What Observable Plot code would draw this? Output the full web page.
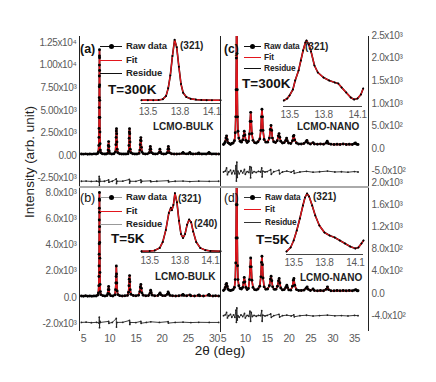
<!DOCTYPE html>
<html><head><meta charset="utf-8">
<script src="https://cdn.jsdelivr.net/npm/d3@7"></script>
<script src="https://cdn.jsdelivr.net/npm/@observablehq/plot@0.6"></script>
<style>
body{margin:0;background:#fff;}
#fig{position:relative;width:436px;height:382px;overflow:hidden;font-family:Arial,"Liberation Sans",sans-serif;background:#fff;}
#fig svg{position:absolute;overflow:visible;background:transparent;}
.t{position:absolute;white-space:nowrap;line-height:1;transform:translateY(-50%);}
.ln{position:absolute;}
</style></head><body><div id="fig"></div>
<script>
// ---------- data (2θ in degrees, intensity in counts) ----------
const obsA = [[4.6,170],[5.0,150],[5.4,180],[5.8,140],[6.2,170],[6.6,150],[7.0,180],[7.4,160],[7.7,210],[7.85,400],[7.92,1100],[7.95,2000],[7.97,3000],[7.99,4200],[8.0,5300],[8.01,6400],[8.02,7600],[8.03,8800],[8.04,10000],[8.05,11000],[8.06,11700],[8.07,10800],[8.08,9400],[8.09,7800],[8.10,6100],[8.12,4200],[8.14,2600],[8.17,1300],[8.22,600],[8.3,300],[8.6,200],[9.0,170],[9.3,160],[9.6,230],[9.7,600],[9.75,1100],[9.8,1540],[9.85,1000],[9.9,500],[10.0,230],[10.4,170],[10.8,190],[11.1,400],[11.18,1200],[11.23,2000],[11.27,2700],[11.3,2970],[11.34,2400],[11.38,1500],[11.44,700],[11.55,300],[11.9,190],[12.3,160],[12.7,170],[13.1,160],[13.5,200],[13.62,450],[13.68,1100],[13.72,1900],[13.76,2600],[13.79,2970],[13.83,2400],[13.87,1500],[13.93,700],[14.05,300],[14.4,190],[14.8,170],[15.2,160],[15.6,230],[15.75,600],[15.83,1200],[15.9,1700],[15.95,1980],[16.0,1600],[16.06,900],[16.15,400],[16.4,210],[16.8,170],[17.2,180],[17.55,300],[17.68,650],[17.76,1000],[17.84,700],[17.95,330],[18.3,190],[18.7,170],[19.1,180],[19.45,330],[19.58,700],[19.7,400],[19.9,210],[20.3,170],[20.7,180],[21.0,300],[21.12,700],[21.2,1000],[21.28,700],[21.4,300],[21.8,190],[22.3,170],[22.8,160],[23.3,180],[23.8,230],[24.0,330],[24.15,230],[24.6,180],[25.0,190],[25.3,330],[25.5,200],[25.9,170],[26.4,180],[26.8,200],[27.0,280],[27.15,200],[27.6,170],[28.0,180],[28.4,170],[28.8,230],[28.95,330],[29.1,220],[29.5,170],[29.9,180],[30.3,160],[30.8,170]];
const resA = [[4.6,-2850],[5.5,-2830],[6.5,-2870],[7.5,-2840],[7.95,-2900],[8.0,-2300],[8.04,-3400],[8.08,-2600],[8.15,-2860],[9.0,-2850],[9.8,-2700],[9.85,-2950],[10.5,-2850],[11.25,-2600],[11.3,-3100],[11.4,-2850],[12.5,-2840],[13.75,-2650],[13.8,-3050],[13.9,-2850],[15.0,-2860],[15.95,-2700],[16.0,-2980],[16.1,-2850],[17.8,-2800],[17.85,-2900],[19.0,-2850],[21.2,-2780],[21.25,-2920],[22.5,-2850],[24.0,-2830],[25.3,-2880],[27.0,-2840],[29.0,-2860],[30.8,-2850]];

const obsB = [[4.6,110],[5.0,90],[5.4,130],[5.8,100],[6.2,120],[6.6,90],[7.0,120],[7.4,110],[7.7,180],[7.85,350],[7.92,900],[7.95,1600],[7.97,2400],[7.99,3300],[8.0,4100],[8.01,5000],[8.02,5900],[8.03,6800],[8.04,7500],[8.05,8000],[8.06,7400],[8.07,6500],[8.08,5400],[8.10,4200],[8.12,3000],[8.14,1900],[8.17,1000],[8.22,450],[8.3,220],[8.7,140],[9.1,120],[9.5,150],[9.65,300],[9.74,600],[9.8,840],[9.86,600],[9.93,280],[10.2,140],[10.6,120],[11.0,200],[11.12,600],[11.18,1100],[11.23,1600],[11.27,2400],[11.31,1800],[11.36,1100],[11.43,500],[11.55,220],[11.9,140],[12.4,120],[12.9,130],[13.4,160],[13.6,400],[13.68,900],[13.74,1400],[13.8,1670],[13.86,1200],[13.92,600],[14.05,250],[14.5,150],[15.0,130],[15.5,170],[15.75,450],[15.85,800],[15.95,990],[16.05,700],[16.15,350],[16.4,170],[16.9,130],[17.4,150],[17.7,330],[17.82,550],[17.92,380],[18.1,180],[18.6,130],[19.2,150],[19.5,280],[19.62,350],[19.75,220],[20.1,140],[20.6,140],[21.0,250],[21.15,420],[21.28,300],[21.5,160],[22.0,130],[22.6,120],[23.2,130],[23.8,170],[24.0,240],[24.15,160],[24.7,130],[25.3,190],[25.5,130],[26.2,120],[26.9,160],[27.05,200],[27.2,130],[27.9,120],[28.8,170],[28.95,230],[29.1,150],[29.7,120],[30.2,130],[30.8,110]];
const resB = [[4.6,-1900],[5.5,-1880],[6.5,-1920],[7.5,-1890],[7.97,-1950],[8.02,-1500],[8.06,-2300],[8.12,-1800],[8.2,-1900],[9.8,-1820],[9.85,-1960],[10.5,-1900],[11.25,-1600],[11.3,-2250],[11.38,-1900],[12.5,-1890],[13.78,-1750],[13.84,-2050],[13.9,-1900],[15.0,-1910],[15.95,-1820],[16.0,-1960],[17.0,-1900],[17.85,-1850],[19.5,-1900],[21.15,-1840],[21.2,-1950],[22.5,-1900],[24.0,-1880],[25.5,-1910],[27.0,-1890],[29.0,-1900],[30.8,-1900]];

const obsC = [[5.0,90],[5.2,110],[5.4,150],[5.55,230],[5.7,280],[5.85,200],[6.0,130],[6.3,110],[6.6,90],[6.9,110],[7.2,120],[7.5,170],[7.7,350],[7.8,700],[7.88,1300],[7.94,2000],[7.98,2700],[8.02,3200],[8.06,2800],[8.1,2100],[8.15,1300],[8.22,700],[8.32,380],[8.5,230],[8.8,160],[9.1,140],[9.4,190],[9.6,280],[9.75,380],[9.9,300],[10.1,180],[10.4,130],[10.7,160],[10.95,320],[11.1,600],[11.22,800],[11.35,600],[11.5,330],[11.75,180],[12.1,130],[12.5,120],[12.9,150],[13.3,210],[13.55,400],[13.7,700],[13.8,870],[13.92,700],[14.05,400],[14.3,200],[14.7,140],[15.1,140],[15.5,230],[15.72,420],[15.88,510],[16.03,400],[16.2,230],[16.5,150],[16.9,130],[17.3,170],[17.55,280],[17.72,330],[17.88,250],[18.1,160],[18.5,120],[18.9,130],[19.25,180],[19.45,230],[19.6,170],[19.9,120],[20.4,110],[20.8,170],[21.0,270],[21.12,290],[21.3,190],[21.7,120],[22.2,100],[22.8,100],[23.4,110],[23.9,150],[24.1,180],[24.35,120],[24.9,100],[25.5,130],[25.8,100],[26.5,95],[27.2,100],[27.9,95],[28.5,120],[28.75,160],[29.0,110],[29.6,95],[30.3,90],[31.0,95],[31.7,90],[32.4,100],[33.1,90],[33.8,95],[34.5,90],[35.0,110],[35.2,120],[35.5,95],[35.8,90]];
const resC = [[5.0,-520],[5.4,-500],[5.7,-430],[5.9,-580],[6.2,-520],[6.6,-480],[6.9,-560],[7.3,-490],[7.6,-560],[7.85,-380],[7.95,-720],[8.05,-300],[8.15,-640],[8.3,-500],[8.6,-560],[9.0,-490],[9.4,-540],[9.8,-460],[10.0,-570],[10.4,-510],[10.8,-530],[11.05,-400],[11.2,-650],[11.35,-420],[11.6,-540],[12.0,-510],[12.5,-530],[13.0,-505],[13.5,-520],[13.75,-430],[13.85,-630],[14.0,-500],[14.5,-520],[15.0,-510],[15.8,-470],[15.95,-570],[16.5,-515],[17.7,-480],[17.85,-560],[18.5,-520],[19.5,-500],[20.5,-525],[21.1,-490],[21.2,-550],[22.5,-520],[24.0,-505],[25.5,-525],[27.0,-515],[28.8,-500],[30.5,-520],[32.0,-515],[33.5,-525],[35.0,-510],[35.8,-520]];

const obsD = [[5.0,55],[5.2,70],[5.4,110],[5.55,160],[5.7,180],[5.85,130],[6.0,80],[6.3,60],[6.6,55],[6.9,60],[7.2,70],[7.5,110],[7.7,250],[7.8,550],[7.88,1000],[7.94,1600],[7.98,2100],[8.02,2400],[8.06,2100],[8.1,1600],[8.15,1000],[8.22,500],[8.32,250],[8.5,140],[8.8,90],[9.1,80],[9.4,110],[9.6,200],[9.75,290],[9.9,210],[10.1,110],[10.4,70],[10.7,90],[10.95,250],[11.1,480],[11.22,640],[11.35,480],[11.5,240],[11.75,110],[12.1,70],[12.5,65],[12.9,80],[13.3,130],[13.55,300],[13.7,560],[13.8,670],[13.92,520],[14.05,280],[14.3,120],[14.7,75],[15.1,80],[15.5,140],[15.75,260],[15.9,310],[16.05,230],[16.25,120],[16.6,75],[17.0,75],[17.35,130],[17.6,230],[17.75,270],[17.9,190],[18.1,100],[18.5,65],[18.9,70],[19.25,110],[19.5,150],[19.65,110],[19.95,65],[20.4,60],[20.8,130],[21.0,240],[21.12,270],[21.3,150],[21.7,70],[22.2,55],[22.8,55],[23.4,60],[23.9,95],[24.15,120],[24.4,75],[24.9,55],[25.5,80],[25.8,55],[26.5,50],[27.2,55],[27.9,50],[28.5,75],[28.8,120],[29.05,70],[29.6,50],[30.3,50],[31.0,55],[31.7,50],[32.4,55],[33.1,50],[33.8,55],[34.5,50],[35.0,60],[35.3,70],[35.6,50],[35.8,50]];
const resD = [[5.0,-400],[5.4,-385],[5.7,-340],[5.9,-440],[6.2,-400],[6.6,-375],[6.9,-430],[7.3,-385],[7.6,-430],[7.85,-300],[7.95,-520],[8.05,-260],[8.15,-480],[8.3,-400],[8.6,-430],[9.0,-385],[9.4,-415],[9.8,-360],[10.0,-440],[10.4,-395],[10.8,-410],[11.05,-320],[11.2,-500],[11.35,-340],[11.6,-415],[12.0,-395],[12.5,-410],[13.0,-395],[13.5,-400],[13.75,-310],[13.85,-500],[14.0,-390],[14.5,-405],[15.0,-395],[15.8,-370],[15.95,-430],[16.5,-400],[17.7,-375],[17.85,-425],[18.5,-400],[19.5,-390],[20.5,-405],[21.1,-385],[21.2,-420],[22.5,-400],[24.0,-392],[25.5,-406],[27.0,-398],[28.8,-390],[30.5,-402],[32.0,-398],[33.5,-405],[35.0,-395],[35.8,-400]];

// insets: (321) region, 2θ vs counts
const insetA = [[13.44,150],[13.50,155],[13.55,150],[13.60,160],[13.64,200],[13.67,350],[13.69,700],[13.71,1300],[13.73,2200],[13.75,2950],[13.77,2600],[13.79,1700],[13.81,900],[13.83,500],[13.86,300],[13.90,220],[13.95,180],[14.00,165],[14.05,155],[14.10,150],[14.18,150]];
const insetB = [[13.42,100],[13.50,110],[13.55,150],[13.60,350],[13.63,800],[13.66,1700],[13.69,3000],[13.71,3400],[13.72,3200],[13.735,3600],[13.75,4500],[13.77,3800],[13.79,2400],[13.81,1400],[13.83,1100],[13.85,1400],[13.87,2100],[13.89,2500],[13.91,2300],[13.93,1600],[13.96,800],[14.00,350],[14.05,180],[14.10,120],[14.20,100]];
const insetC = [[13.45,160],[13.48,180],[13.50,210],[13.53,270],[13.55,360],[13.58,460],[13.60,560],[13.62,660],[13.64,740],[13.65,760],[13.67,720],[13.69,650],[13.72,510],[13.75,440],[13.80,390],[13.85,360],[13.90,340],[13.93,330],[13.96,290],[14.00,240],[14.04,190],[14.07,170],[14.10,180],[14.13,220],[14.15,280]];
const insetD = [[13.43,77],[13.47,113],[13.50,176],[13.53,266],[13.56,374],[13.59,491],[13.61,563],[13.63,599],[13.65,572],[13.68,491],[13.71,401],[13.75,311],[13.80,248],[13.85,221],[13.90,203],[13.95,176],[14.00,149],[14.05,122],[14.10,104],[14.13,113],[14.16,149],[14.18,176]];

// tick values and labels
const yTicksA = [12500,10000,7500,5000,2500,0,-2500];
const yLabelsA = ["1.25x10⁴","1.00x10⁴","7.50x10³","5.00x10³","2.50x10³","0.00","-2.50x10³"];
const yTicksB = [8000,6000,4000,2000,0,-2000];
const yLabelsB = ["8.0x10³","6.0x10³","4.0x10³","2.0x10³","0.0","-2.0x10³"];
const yTicksC = [2500,2000,1500,1000,500,0,-500];
const yLabelsC = ["2.5x10³","2.0x10³","1.5x10³","1.0x10³","5.0x10²","0.0","-5.0x10²"];
const yTicksD = [2000,1600,1200,800,400,0,-400];
const yLabelsD = ["2.0x10³","1.6x10³","1.2x10³","8.0x10²","4.0x10²","0.0","-4.0x10²"];
const xTicksBulk = [5,10,15,20,25,30];
const xTicksNano = [5,10,15,20,25,30,35];
const insetTicks = [13.5,13.8,14.1];

// ---------- drawing ----------
const fig = document.getElementById("fig");
const RED = "#e3161d";
const tickFont = '"Liberation Sans Narrow","Arial Narrow",Arial,"Liberation Sans",sans-serif';
const X = d => d[0], Y = d => d[1];

function place(el, left, top){ el.style.left = left+"px"; el.style.top = top+"px"; fig.appendChild(el); }

function mainPanel(o){
  const marks = [
    Plot.line(o.obs, {x:X, y:Y, stroke:"#000", strokeWidth:1.6, clip:true}),
    Plot.line(o.obs, {x:X, y:Y, stroke:RED, strokeWidth:1.5, clip:true}),
    Plot.dot(o.obs, {x:X, y:Y, r:1.45, fill:"#000", stroke:"none", clip:true}),
    Plot.line(o.res, {x:X, y:Y, stroke:"#222", strokeWidth:0.9}),
    Plot.dot(o.res, {x:X, y:Y, r:0.9, fill:"#222", stroke:"none"}),
    Plot.axisY(o.yTicks, {anchor:o.anchor, tickSize:0, tickPadding:3, label:null,
      tickFormat: v => o.yLabels[o.yTicks.indexOf(v)]})
  ];
  if (o.xTicks) marks.push(Plot.axisX(o.xTicks, {anchor:"bottom", tickSize:0, tickPadding:4, label:null, fontSize:10.5}));
  const svg = Plot.plot({
    width:o.w, height:o.h, marginLeft:o.mL, marginRight:o.mR, marginTop:o.mT, marginBottom:o.mB,
    x:{domain:o.xDomain, axis: o.xTicks ? undefined : null},
    y:{domain:o.yDomain},
    style:{fontFamily:tickFont, fontSize:"10px", letterSpacing:"-0.35px", color:"#5a5a5a", background:"transparent", overflow:"visible"},
    marks
  });
  place(svg, o.left, o.top);
}

function insetPanel(o){
  const svg = Plot.plot({
    width:o.w, height:o.h+16, marginLeft:0, marginRight:0, marginTop:0, marginBottom:16,
    x:{domain:o.xDomain}, y:{domain:o.yDomain, axis:null},
    style:{fontFamily:tickFont, fontSize:"10px", letterSpacing:"-0.3px", color:"#5a5a5a", background:"transparent", overflow:"visible"},
    marks:[
      Plot.axisX(insetTicks, {anchor:"bottom", tickSize:0, tickPadding:4, label:null, tickFormat:v=>v.toFixed(1)}),
      Plot.ruleY([o.yDomain[0]], {stroke:"#444", strokeWidth:1}),
      Plot.line(o.data, {x:X, y:Y, stroke:"#000", strokeWidth:1.6}),
      Plot.line(o.data, {x:X, y:Y, stroke:RED, strokeWidth:1.3}),
      Plot.dot(o.data, {x:X, y:Y, r:1.0, fill:"#000", stroke:"none"})
    ]
  });
  place(svg, o.left, o.top);
}

mainPanel({obs:obsA, res:resA, xDomain:[4.24,31.15], yDomain:[-3540,13164], yTicks:yTicksA, yLabels:yLabelsA,
  anchor:"left", left:0, top:0, w:220, h:187, mL:79, mR:0, mT:36, mB:0});
mainPanel({obs:obsB, res:resB, xDomain:[4.24,31.15], yDomain:[-2514,8381], yTicks:yTicksB, yLabels:yLabelsB,
  anchor:"left", left:0, top:187, w:220, h:173, mL:79, mR:0, mT:0, mB:30, xTicks:xTicksBulk});
mainPanel({obs:obsC, res:resC, xDomain:[4.31,38.2], yDomain:[-863,2478], yTicks:yTicksC, yLabels:yLabelsC,
  anchor:"right", left:220, top:0, w:218, h:187, mL:0, mR:70, mT:36, mB:0});
mainPanel({obs:obsD, res:resD, xDomain:[4.31,38.2], yDomain:[-667,1910], yTicks:yTicksD, yLabels:yLabelsD,
  anchor:"right", left:220, top:187, w:218, h:173, mL:0, mR:70, mT:0, mB:30, xTicks:xTicksNano});

insetPanel({data:insetA, xDomain:[13.44,14.18], yDomain:[0,3100], left:141, top:36, w:79, h:67});
insetPanel({data:insetB, xDomain:[13.42,14.2], yDomain:[0,4700], left:141, top:190, w:79, h:62});
insetPanel({data:insetC, xDomain:[13.447,14.144], yDomain:[100,800], left:283, top:36, w:79, h:70});
insetPanel({data:insetD, xDomain:[13.43,14.18], yDomain:[50,644], left:286, top:188, w:77, h:66});

// frame lines
function line(x,y,w,h,c){ const d=document.createElement("div"); d.className="ln"; d.style.cssText=`left:${x}px;top:${y}px;width:${w}px;height:${h}px;background:${c}`; fig.appendChild(d); }
line(79,36,1,295,"#222"); line(220,36,1,296,"#222"); line(368,36,1,295,"#222");
line(79,186,290,2,"#aaa");

// text helpers
function txt(s,x,y,size,opt={}){
  const d=document.createElement("div"); d.className="t"; d.textContent=s;
  d.style.left=x+"px"; d.style.top=y+"px"; d.style.fontSize=size+"px";
  d.style.fontWeight=opt.w||"normal"; d.style.color=opt.c||"#111";
  if(opt.ls) d.style.letterSpacing=opt.ls;
  fig.appendChild(d); return d;
}
function legend(x0,x1,xt,ys,size,lc,labels){
  line(x0,ys[0]-0.5,x1-x0,1.2,lc);
  const dot=document.createElement("div"); dot.className="ln";
  dot.style.cssText=`left:${(x0+x1)/2-2.5}px;top:${ys[0]-2.5}px;width:5px;height:5px;border-radius:50%;background:#000`;
  fig.appendChild(dot);
  line(x0,ys[1]-0.5,x1-x0,1.2,RED);
  line(x0,ys[2]-0.5,x1-x0,1.2,lc);
  labels.forEach((s,i)=>txt(s,xt,ys[i],size,{w:"bold",c:"#222",ls:"-0.1px"}));
}
const legendLabels = ["Raw data","Fit","Residue"];

// panel (a)
txt("(a)",80,49,12.5,{w:"bold",c:"#111"});
legend(100,122,126,[46,60,73],9.5,"#111",legendLabels);
txt("T=300K",108,90,13.5,{w:"bold"});
txt("(321)",180,46,10,{w:"bold",c:"#222"});
txt("LCMO-BULK",153,127,10,{w:"bold",c:"#222"});
// panel (b)
txt("(b)",80,198,12.5,{c:"#111"});
legend(100,122,126,[197,211,224],9.5,"#999",legendLabels);
txt("T=5K",111,239,13.5,{w:"bold"});
txt("(321)",178,199,10,{w:"bold",c:"#222"});
txt("(240)",194,224,10,{w:"bold",c:"#222"});
txt("LCMO-BULK",155,277,10,{w:"bold",c:"#222"});
// panel (c)
txt("(c)",224,49,12,{w:"bold",c:"#111"});
legend(244,261,264,[46,57,68],8.3,"#111",legendLabels);
txt("T=300K",242,84,13.5,{w:"bold"});
txt("(321)",305,47,10,{w:"bold",c:"#222"});
txt("LCMO-NANO",297,127,10,{w:"bold",c:"#222"});
// panel (d)
txt("(d)",224,198,12,{c:"#111"});
legend(244,261,265,[197,209,222],8.3,"#333",legendLabels);
txt("T=5K",256,240,13.5,{w:"bold"});
txt("(321)",313,197,10,{w:"bold",c:"#222"});
txt("LCMO-NANO",300,278,10,{w:"bold",c:"#222"});

// axis titles
const yl=txt("Intensity (arb. unit)",30,162,13.5,{c:"#222"});
yl.style.transform="translate(-50%,-50%) rotate(-90deg)";
const xl=txt("2θ (deg)",220,351,13.5,{c:"#222"});
xl.style.transform="translate(-50%,-50%)";
</script></body></html>
